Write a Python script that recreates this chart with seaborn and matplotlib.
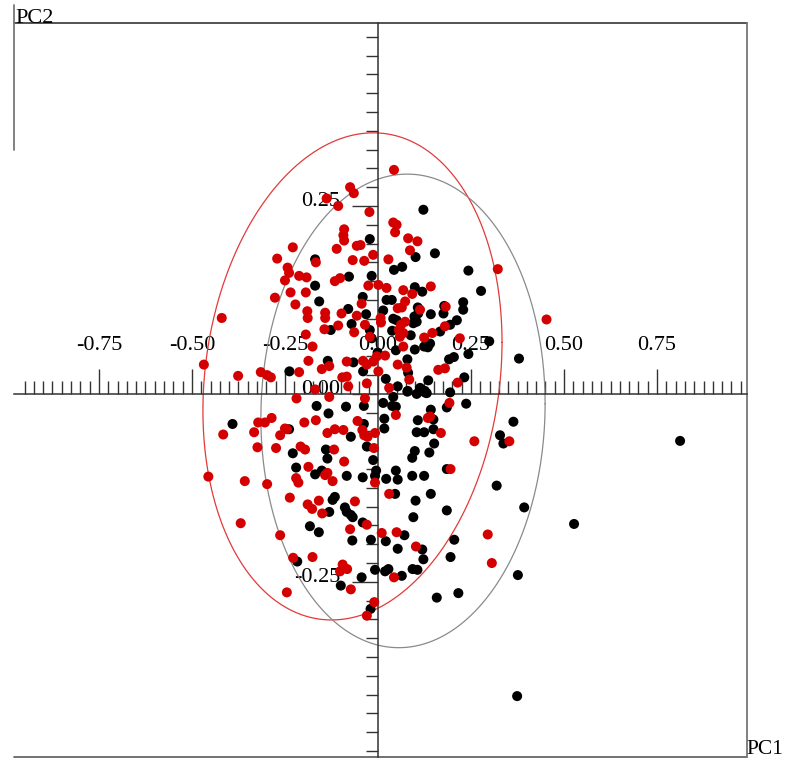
import numpy as np
import pandas as pd
import matplotlib
matplotlib.use("Agg")
import matplotlib.pyplot as plt
import seaborn as sns
from matplotlib.ticker import FixedLocator

# ---------------- data ----------------
black_x = [0.812, 0.527, 0.374, -0.391, -0.165, -0.133, -0.086, -0.038, 0.014, 0.038, 0.048, 0.041,
           0.079, 0.104, 0.126, 0.194, 0.237, 0.185, 0.142, 0.149, 0.107, 0.017, -0.038, -0.239,
           -0.073, 0.017, 0.104, 0.124, 0.149, 0.364, 0.328, 0.337, 0.151, 0.138, 0.099, 0.092,
           -0.030, -0.140, -0.229, -0.136, -0.013, -0.220, -0.169, -0.151, -0.084, -0.041, -0.005,
           -0.008, 0.022, 0.048, 0.053, 0.092, 0.124, 0.185, 0.319, 0.393, 0.046, 0.142, 0.101,
           0.185, 0.095, -0.122, -0.116, -0.131, -0.089, -0.084, -0.073, -0.068, -0.041, -0.183,
           -0.159, -0.069, -0.019, 0.021, 0.071, 0.053, 0.205, 0.119, 0.122, 0.195, -0.217, -0.008,
           0.019, 0.028, 0.064, 0.093, 0.106, -0.044, 0.376, -0.100, 0.158, 0.216, -0.020,
           -0.022, -0.169, -0.017, -0.078, -0.169, -0.041, -0.158, -0.080, -0.032, -0.071, -0.022,
           -0.127, -0.017, -0.135, -0.066, -0.001, -0.238, -0.040, 0.122, 0.101, 0.153, 0.043,
           0.065, 0.243, 0.277, 0.099, 0.119, 0.023, 0.037, 0.107, 0.108, 0.178, 0.229, 0.229,
           0.014, 0.041, 0.050, 0.098, 0.104, 0.095, 0.142, 0.176, 0.212, 0.194, 0.167, 0.038,
           0.088, 0.299, 0.048, 0.099, 0.124, 0.140, 0.134, 0.079, 0.191, 0.204, 0.243, 0.379,
           0.081, 0.021, 0.135, 0.232, 0.053, 0.080, 0.113, 0.126, 0.131]
black_y = [-0.0625, -0.173, -0.402, -0.040, -0.016, -0.026, -0.017, -0.016, -0.012, -0.016, -0.017, -0.004,
           0.003, 0.000, 0.002, 0.002, -0.013, -0.018, -0.021, -0.034, -0.035, -0.033, -0.040, -0.047,
           -0.057, -0.046, -0.051, -0.051, -0.047, -0.037, -0.055, -0.066, -0.066, -0.078, -0.076, -0.085,
           -0.070, -0.074, -0.079, -0.086, -0.088, -0.098, -0.107, -0.102, -0.109, -0.111, -0.102,
           -0.109, -0.113, -0.102, -0.114, -0.109, -0.109, -0.100, -0.122, -0.151, -0.133, -0.133, -0.142,
           -0.155, -0.164, -0.141, -0.137, -0.157, -0.151, -0.157, -0.161, -0.164, -0.171, -0.176,
           -0.184, -0.195, -0.194, -0.196, -0.188, -0.206, -0.194, -0.207, -0.220, -0.217, -0.223, -0.234,
           -0.236, -0.233, -0.242, -0.233, -0.234, -0.244, -0.241, -0.255, -0.271, -0.265, -0.286,
           0.206, 0.179, 0.157, 0.156, 0.144, 0.129, 0.123, 0.113, 0.106, 0.093, 0.085,
           0.085, 0.074, 0.044, 0.042, 0.055, 0.030, 0.030, 0.245, 0.182, 0.187, 0.165,
           0.169, 0.164, 0.137, 0.142, 0.136, 0.125, 0.125, 0.115, 0.107, 0.117, 0.122, 0.112,
           0.111, 0.100, 0.098, 0.103, 0.096, 0.094, 0.106, 0.107, 0.098, 0.092, 0.083, 0.084,
           0.078, 0.070, 0.058, 0.059, 0.063, 0.067, 0.062, 0.046, 0.046, 0.049, 0.053, 0.047,
           0.028, 0.020, 0.018, 0.022, 0.010, 0.004, 0.008, 0.004, 0.001]

red_x = [-0.219, -0.131, -0.035, 0.048, 0.192, 0.134, 0.140, -0.322, -0.304, -0.286, -0.416, -0.333,
         -0.263, -0.250, -0.245, -0.198, -0.167, -0.136, -0.116, -0.093, -0.055, -0.042, -0.037, -0.028,
         -0.008, 0.169, 0.259, 0.353, -0.324, -0.274, -0.208, -0.196, -0.118, -0.011, -0.091, -0.187,
         -0.142, -0.136, -0.122, -0.220, -0.214, -0.298, -0.358, -0.456, -0.008, 0.195, -0.237, -0.189,
         -0.177, -0.159, -0.150, -0.062, 0.030, -0.369, -0.263, -0.075, -0.030, 0.010, 0.050, 0.102,
         0.295, 0.306, -0.228, -0.176, -0.095, -0.083, -0.102, 0.043, -0.073, -0.245, -0.010, -0.030,
         -0.075, -0.065, -0.138, -0.107, -0.023, -0.091, -0.093, -0.091, -0.057, -0.047, -0.111, -0.229,
         -0.271, -0.167, -0.068, -0.013, -0.037, -0.243, -0.239, -0.212, -0.192, -0.116, -0.102, -0.250,
         -0.026, 0.001, -0.277, -0.235, -0.194, -0.222, -0.190, -0.189, -0.142, -0.142, -0.098, -0.044,
         -0.057, -0.107, -0.144, -0.064, -0.035, -0.022, -0.194, -0.176, -0.420, -0.187, -0.151, -0.131,
         -0.084, -0.040, -0.030, -0.013, -0.003, -0.212, -0.096, -0.084, -0.315, -0.298, -0.288, -0.376,
         -0.468, -0.169, -0.080, -0.030,
         0.043, 0.041, 0.050, 0.046, 0.081, 0.106, 0.086, 0.028, 0.322, 0.453, 0.023, 0.068, 0.092,
         0.142, 0.073, 0.053, 0.064, 0.007, 0.008, 0.073, 0.062, 0.056, 0.068, 0.059, 0.113, 0.182,
         0.180, 0.146, 0.124, 0.220, 0.068, 0.019, 0.053, 0.077, 0.001, 0.162, 0.180, 0.214, 0.084,
         0.030]
red_y = [-0.006, -0.004, -0.006, -0.028, -0.012, -0.032, -0.030, -0.038, -0.038, -0.032, -0.054, -0.051,
         -0.055, -0.046, -0.047, -0.038, -0.035, -0.052, -0.047, -0.048, -0.036, -0.048, -0.055, -0.057,
         -0.052, -0.052, -0.063, -0.063, -0.071, -0.072, -0.070, -0.074, -0.074, -0.072, -0.090, -0.097,
         -0.108, -0.105, -0.116, -0.112, -0.118, -0.120, -0.116, -0.110, -0.118, -0.100, -0.138, -0.147,
         -0.153, -0.142, -0.159, -0.143, -0.133, -0.172, -0.188, -0.180, -0.174, -0.185, -0.184, -0.203,
         -0.187, -0.225, -0.218, -0.217, -0.227, -0.233, -0.236, -0.244, -0.260, -0.264, -0.277, -0.295,
         0.275, 0.267, 0.260, 0.250, 0.242, 0.219, 0.211, 0.204, 0.197, 0.198, 0.193, 0.195,
         0.180, 0.175, 0.178, 0.185, 0.177, 0.168, 0.161, 0.157, 0.155, 0.150, 0.154, 0.151,
         0.144, 0.145, 0.128, 0.135, 0.135, 0.119, 0.110, 0.101, 0.108, 0.101, 0.107, 0.120,
         0.104, 0.091, 0.086, 0.082, 0.092, 0.076, 0.079, 0.063, 0.101, 0.044, 0.033, 0.037,
         0.043, 0.044, 0.039, 0.043, 0.050, 0.029, 0.022, 0.023, 0.029, 0.025, 0.022, 0.024,
         0.039, 0.006, 0.010, 0.014,
         0.298, 0.228, 0.225, 0.215, 0.207, 0.203, 0.191, 0.179, 0.166, 0.099, 0.141, 0.138, 0.133,
         0.143, 0.123, 0.114, 0.115, 0.101, 0.095, 0.096, 0.092, 0.085, 0.081, 0.076, 0.112, 0.116,
         0.090, 0.081, 0.075, 0.074, 0.063, 0.051, 0.039, 0.035, 0.030, 0.032, 0.034, 0.015, 0.019,
         0.008]

groups = ["black", "red"]
group_colors = ["#000000", "#d40000"]

# ellipse summaries: centre x, centre y, semi-axis x, semi-axis y, tilt phase
ell_red = [-0.0686, 0.0233, 0.402, 0.324, 0.14]
ell_gray = [0.0672, -0.0226, 0.382, 0.315, 0.03]
ell_colors = ["#e23a3a", "#8a8a8a"]

x_major = [-0.75, -0.50, -0.25, 0.00, 0.25, 0.50, 0.75]
x_labels = ["-0.75", "-0.50", "-0.25", "0.00", "0.25", "0.50", "0.75"]
y_major = [-0.25, 0.00, 0.25]
y_labels = ["-0.25", "0.00", "0.25"]

# ---------------- figure ----------------
sns.set_theme(style="white")
plt.rcParams["font.family"] = ["Liberation Serif", "DejaVu Serif"]

fig = plt.figure(figsize=(7.85, 7.6), dpi=100)
ax = fig.add_axes([0, 0, 1, 1])
ax.set_xlim(-1.016, 1.094)
ax.set_ylim(-0.487, 0.524)

df = pd.DataFrame({
    "PC1": black_x + red_x,
    "PC2": black_y + red_y,
    "grp": [groups[0]] * len(black_x) + [groups[1]] * len(red_x),
})
sns.scatterplot(data=df, x="PC1", y="PC2", hue="grp", hue_order=groups,
                palette=group_colors, s=52, linewidth=0, legend=False, ax=ax, zorder=3)

t = np.linspace(0, 2 * np.pi, 400)
for e, c in zip([ell_red, ell_gray], ell_colors):
    ax.plot(e[0] + e[2] * np.cos(t), e[1] + e[3] * np.sin(t + e[4]), color=c, lw=0.9, zorder=2)

# axes through origin
axis_col = "#333333"
for s in ["bottom", "right"]:
    ax.spines[s].set_visible(False)
ax.spines["top"].set_position(("data", 0))
ax.spines["left"].set_position(("data", 0))
ax.spines["top"].set_bounds(-0.978, 0.992)
ax.spines["left"].set_bounds(-0.4827, 0.4934)
for s in ["top", "left"]:
    ax.spines[s].set_color(axis_col)
    ax.spines[s].set_linewidth(1.1)
    ax.spines[s].set_zorder(2.5)

ax.xaxis.tick_top()
ax.xaxis.set_major_locator(FixedLocator(x_major))
ax.set_xticklabels(x_labels)
ax.xaxis.set_minor_locator(FixedLocator(np.round(np.arange(-0.95, 0.976, 0.025), 3)))
ax.yaxis.set_major_locator(FixedLocator(y_major))
ax.set_yticklabels(y_labels)
ax.yaxis.set_minor_locator(FixedLocator(np.round(np.arange(-0.475, 0.476, 0.025), 3)))
ax.tick_params(axis="x", which="major", direction="out", length=18, width=1.0, color=axis_col,
               pad=10, labelsize=16, labelcolor="black", top=True, bottom=False)
ax.tick_params(axis="x", which="minor", direction="out", length=9.4, width=1.0, color=axis_col,
               top=True, bottom=False)
ax.tick_params(axis="y", which="major", direction="out", length=18.5, width=1.0, color=axis_col,
               pad=8.5, labelsize=16, labelcolor="black", left=True)
ax.tick_params(axis="y", which="minor", direction="out", length=9, width=1.0, color=axis_col, left=True)
for lab in ax.get_yticklabels():
    lab.set_verticalalignment("baseline")
ax.set_xlabel("")
ax.set_ylabel("")
ax.grid(False)

# frame pieces
frame_kw = dict(color="#444444", lw=1.3, clip_on=False, zorder=1)
ax.plot([-0.978, 0.992], [0.4934, 0.4934], **frame_kw)
ax.plot([-0.978, 0.992], [-0.4827, -0.4827], **dict(frame_kw, color="#666666"))
ax.plot([0.992, 0.992], [0.4934, -0.4827], **dict(frame_kw, color="#777777"))
ax.plot([-0.978, -0.978], [0.517, 0.3245], **dict(frame_kw, color="#777777"))

ax.text(-0.976, 0.4934, "PC2", fontsize=16, ha="left", va="baseline", color="black")
fig.text(783.0 / 785, 0.6 / 760, "PC1", fontsize=15.5, ha="right", va="bottom", color="black")

fig.savefig("out.png", dpi=100, facecolor="white")
